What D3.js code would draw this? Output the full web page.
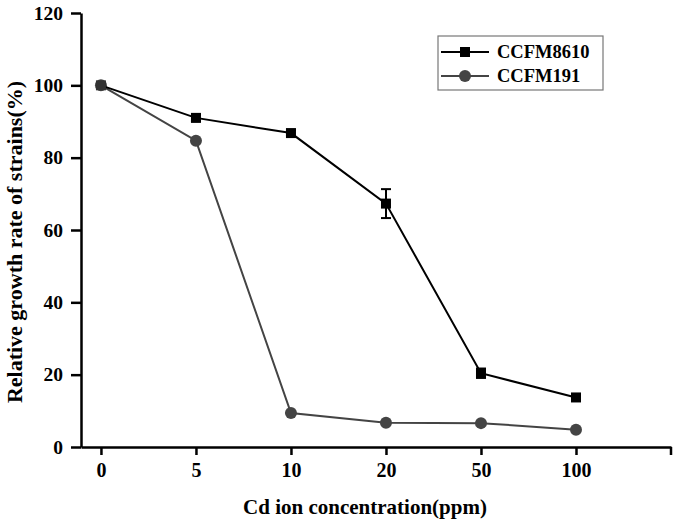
<!DOCTYPE html>
<html><head><meta charset="utf-8">
<script src="https://cdn.jsdelivr.net/npm/d3@7"></script>
<style>body{margin:0;background:#fff}svg{display:block}text{font-family:"Liberation Serif","Times New Roman",serif;font-weight:bold}</style>
</head><body>
<svg id="c" width="675" height="523"></svg>
<script>
const categories = ["0","5","10","20","50","100"];
const ccfm8610 = [100, 91.0, 86.8, 67.3, 20.4, 13.7];
const ccfm8610Err = [0.6, 0.9, 0.8, 4.0, 1.3, 0.8];
const ccfm191 = [100, 84.7, 9.4, 6.7, 6.6, 4.8];
const yTicks = [0, 20, 40, 60, 80, 100, 120];
const seriesNames = ["CCFM8610", "CCFM191"];

const svg = d3.select("#c");
const x = d3.scaleLinear().domain([-0.21, 6]).range([81, 671]);
const y = d3.scaleLinear().domain([0, 120]).range([447, 13]);

// axes
const xAxis = d3.axisBottom(x).tickValues(d3.range(categories.length)).tickFormat(i => categories[i]).tickSize(8).tickSizeOuter(0);
const gx = svg.append("g").attr("transform", "translate(0,447)").call(xAxis);
gx.select(".domain").attr("stroke", "#000").attr("stroke-width", 2.5);
gx.selectAll(".tick line").attr("stroke", "#000").attr("stroke-width", 2.5);
gx.selectAll(".tick text").attr("font-size", 20).attr("fill", "#000").attr("dy", "0.71em").attr("y", 16);
gx.append("line").attr("x1", 671).attr("x2", 671).attr("y1", 0).attr("y2", 8).attr("stroke", "#000").attr("stroke-width", 2.5);

const yAxis = d3.axisLeft(y).tickValues(yTicks).tickSize(10).tickSizeOuter(0);
const gy = svg.append("g").attr("transform", "translate(81,0)").call(yAxis);
gy.select(".domain").attr("stroke", "#000").attr("stroke-width", 2.5);
gy.selectAll(".tick line").attr("stroke", "#000").attr("stroke-width", 2.5);
gy.selectAll(".tick text").attr("font-size", 19.5).attr("fill", "#000").attr("x", -18);

svg.append("text").attr("x", 365).attr("y", 514).attr("text-anchor", "middle").attr("font-size", 21).text("Cd ion concentration(ppm)");
svg.append("text").attr("transform", "translate(22,242) rotate(-90)").attr("text-anchor", "middle").attr("font-size", 22).text("Relative growth rate of strains(%)");

const line = d3.line().x((d, i) => x(i)).y(d => y(d));

// CCFM191 (gray circles)
const g2 = svg.append("g");
g2.append("path").datum(ccfm191).attr("d", line).attr("fill", "none").attr("stroke", "#444").attr("stroke-width", 2);
g2.selectAll("circle").data(ccfm191).join("circle").attr("cx", (d, i) => x(i)).attr("cy", d => y(d)).attr("r", 6).attr("fill", "#444");

// CCFM8610 (black squares)
const g1 = svg.append("g");
g1.append("path").datum(ccfm8610).attr("d", line).attr("fill", "none").attr("stroke", "#000").attr("stroke-width", 2);
const eb = g1.selectAll("g.eb").data(ccfm8610).join("g");
eb.append("line").attr("x1", (d, i) => x(i)).attr("x2", (d, i) => x(i)).attr("y1", (d, i) => y(d + ccfm8610Err[i])).attr("y2", (d, i) => y(d - ccfm8610Err[i])).attr("stroke", "#000").attr("stroke-width", 2);
eb.append("line").attr("x1", (d, i) => x(i) - 5).attr("x2", (d, i) => x(i) + 5).attr("y1", (d, i) => y(d + ccfm8610Err[i])).attr("y2", (d, i) => y(d + ccfm8610Err[i])).attr("stroke", "#000").attr("stroke-width", 2);
eb.append("line").attr("x1", (d, i) => x(i) - 5).attr("x2", (d, i) => x(i) + 5).attr("y1", (d, i) => y(d - ccfm8610Err[i])).attr("y2", (d, i) => y(d - ccfm8610Err[i])).attr("stroke", "#000").attr("stroke-width", 2);
g1.selectAll("rect").data(ccfm8610).join("rect").attr("x", (d, i) => x(i) - 5).attr("y", d => y(d) - 5).attr("width", 10).attr("height", 10).attr("fill", (d, i) => i === 0 ? "#333" : "#000");

// legend
const lg = svg.append("g");
lg.append("rect").attr("x", 438).attr("y", 36).attr("width", 165).attr("height", 54).attr("fill", "#fff").attr("stroke", "#777").attr("stroke-width", 1.2);
seriesNames.forEach((name, k) => {
  const yy = 52 + k * 24;
  const col = k === 0 ? "#000" : "#444";
  lg.append("line").attr("x1", 441).attr("x2", 489).attr("y1", yy).attr("y2", yy).attr("stroke", col).attr("stroke-width", 2);
  if (k === 0) lg.append("rect").attr("x", 460).attr("y", yy - 5).attr("width", 10).attr("height", 10).attr("fill", "#000");
  else lg.append("circle").attr("cx", 465).attr("cy", yy).attr("r", 6).attr("fill", col);
  lg.append("text").attr("x", 497).attr("y", yy).attr("dy", "0.35em").attr("font-size", 18.5).text(name);
});
</script>
</body></html>
